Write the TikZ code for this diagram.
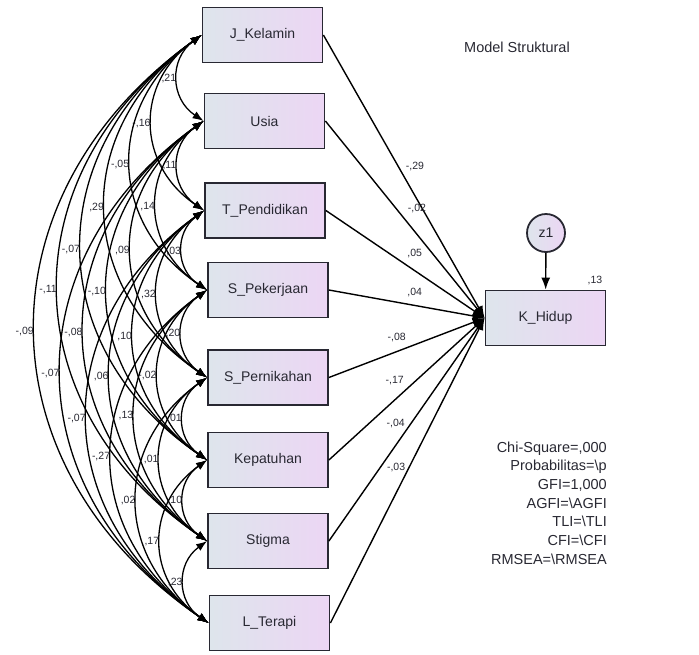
\documentclass[tikz,border=0pt]{standalone}
\usepackage{fontspec}
\setmainfont{Liberation Sans}
\usetikzlibrary{positioning,arrows.meta}
\definecolor{boxl}{RGB}{222,229,236}
\definecolor{boxr}{RGB}{236,214,244}
\definecolor{ink}{RGB}{40,40,50}
\tikzset{obs/.style={draw=ink,line width=1.8pt,minimum width=120pt,minimum height=55pt,left color=boxl,right color=boxr,text=ink,font=\fontsize{14}{16}\selectfont}}
\tikzset{err/.style={circle,draw=ink,line width=1.8pt,minimum size=38pt,inner sep=0pt,left color=boxl,right color=boxr,text=ink,font=\fontsize{14}{16}\selectfont}}
\tikzset{reg/.style={-{Latex[length=12pt,width=9pt]},line width=1.4pt}}
\tikzset{cov/.style={{Latex[length=11pt,width=8pt]}-{Latex[length=11pt,width=8pt]},line width=1.3pt,bend right=55,looseness=1.2}}
\tikzset{coef/.style={text=ink,inner sep=1pt,font=\fontsize{10.5}{12}\selectfont}}

\begin{document}
\begin{tikzpicture}[x=1pt,y=-1pt]
  \useasboundingbox (0,0) rectangle (699,654);
  % observed variables
  \node[obs] (jk) at (262.5,35) {J\_Kelamin};
  \node[obs] (usia) at (264.5,121) {Usia};
  \node[obs] (tp) at (265,210.5) {T\_Pendidikan};
  \node[obs] (spek) at (268,290) {S\_Pekerjaan};
  \node[obs] (spern) at (268,377.5) {S\_Pernikahan};
  \node[obs] (kep) at (268,460) {Kepatuhan};
  \node[obs] (stig) at (268,541) {Stigma};
  \node[obs] (lt) at (269.5,623) {L\_Terapi};
  \node[obs] (kh) at (545.5,318) {K\_Hidup};
  \node[err] (z1) at (546,233) {z1};
  \node[coef] (r2) at (595,280) {,13};
  \node[text=ink,font=\fontsize{14.5}{17}\selectfont] (title) at (517,47) {Model Struktural};
  \node[text=ink,align=right,anchor=east,inner sep=0pt,font=\fontsize{14.5}{18.7}\selectfont] (fit) at (607,503)
    {Chi-Square=,000\\Probabilitas=\textbackslash p\\GFI=1,000\\AGFI=\textbackslash AGFI\\TLI=\textbackslash TLI\\CFI=\textbackslash CFI\\RMSEA=\textbackslash RMSEA};
  % regression weights
  \draw[reg] (z1) -- (kh);
  \draw[reg] (jk.east) -- node[coef,pos=.568,yshift=29pt] {-,29} (kh.west);
  \draw[reg] (usia.east) -- node[coef,pos=.575,yshift=26pt] {-,02} (kh.west);
  \draw[reg] (tp.east) -- node[coef,pos=.56,yshift=17pt] {,05} (kh.west);
  \draw[reg] (spek.east) -- node[coef,pos=.551,yshift=13pt] {,04} (kh.west);
  \draw[reg] (spern.east) -- node[coef,pos=.436,yshift=14pt] {-,08} (kh.west);
  \draw[reg] (kep.east) -- node[coef,pos=.423,yshift=19pt] {-,17} (kh.west);
  \draw[reg] (stig.east) -- node[coef,pos=.429,yshift=22pt] {-,04} (kh.west);
  \draw[reg] (lt.east) -- node[coef,pos=.426,yshift=26pt] {-,03} (kh.west);
  % covariances
  \foreach \a/\b/\r in {jk/usia/{,21},jk/tp/{-,16},usia/tp/{-,11},jk/spek/{-,05},
      jk/spern/{,29},usia/spek/{,14},jk/kep/{-,07},usia/spern/{,09},tp/spek/{,03},
      jk/stig/{-,11},usia/kep/{-,10},tp/spern/{,32},spek/spern/{,20},jk/lt/{-,09},
      usia/stig/{-,08},tp/kep/{,10},usia/lt/{-,07},tp/stig/{,06},spek/kep/{-,02},
      tp/lt/{-,07},spek/stig/{,13},spern/kep/{,01},spek/lt/{-,27},spern/stig/{,01},
      kep/stig/{,10},spern/lt/{,02},kep/lt/{,17},stig/lt/{,23}}
    \draw[cov] (\a.west) to node[coef,midway,anchor=east] {\r} (\b.west);
\end{tikzpicture}
\end{document}
